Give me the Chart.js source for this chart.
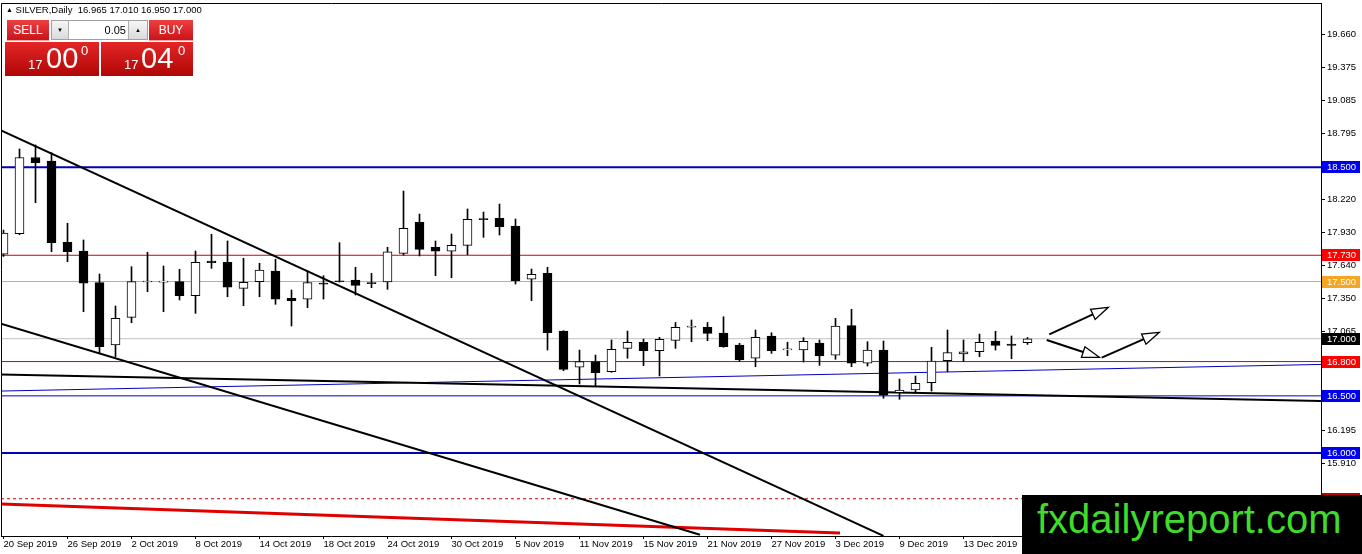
<!DOCTYPE html>
<html>
<head>
<meta charset="utf-8">
<script src="https://cdn.jsdelivr.net/npm/chart.js@4.4.1/dist/chart.umd.min.js"></script>
<style>
  html, body { margin: 0; padding: 0; background: #fff; }
  #wrap { position: relative; width: 1362px; height: 554px; overflow: hidden; font-family: "Liberation Sans", Arial, sans-serif; }
  #chart { position: absolute; left: 0; top: 0; }
  .abs { position: absolute; }
  #title { left: 6px; top: 4px; font-size: 9.5px; white-space: pre; color: #000; line-height: 11px; }
  #title .tri { font-size: 7px; vertical-align: 1px; }
  .btn { top: 20px; height: 20px; background: linear-gradient(#ee4040, #c8141a); color: #fff; font-size: 12px;
         text-align: center; line-height: 20px; border-bottom: 1px solid #f3a3a3; }
  #spin { left: 51px; top: 20px; width: 95px; height: 18px; border: 1px solid #a0a0a0; background: #fff; }
  .sbtn { top: 0; height: 18px; background: linear-gradient(#f6f6f6, #dadada); font-size: 6px; line-height: 18px; text-align: center; color: #000; }
  .price { top: 42px; height: 34px; background: linear-gradient(#e42626, #b00606); color: #fff; }
  .price span { position: absolute; white-space: pre; }
  #mark { left: 1022px; top: 495px; width: 340px; height: 59px; background: #000; }
  #mark span { position: absolute; left: 15px; top: 4px; font-size: 40px; line-height: 40px; color: #3fdc2c; white-space: pre; }
</style>
</head>
<body>
<div id="wrap">
  <canvas id="chart" width="1362" height="554"></canvas>

  <div id="title" class="abs"><span class="tri">&#9650;</span> SILVER,Daily  16.965 17.010 16.950 17.000</div>

  <div class="abs btn" style="left:7px;width:42px;">SELL</div>
  <div id="spin" class="abs">
    <div class="abs sbtn" style="left:0;width:16px;border-right:1px solid #b0b0b0;">&#9660;</div>
    <div class="abs" style="right:21px;top:0;font-size:11px;line-height:18px;">0.05</div>
    <div class="abs sbtn" style="right:0;width:18px;border-left:1px solid #b0b0b0;">&#9650;</div>
  </div>
  <div class="abs btn" style="left:149px;width:44px;">BUY</div>

  <div class="abs price" style="left:5px;width:94px;">
    <span style="left:23px;top:16px;font-size:13px;line-height:13px;">17</span>
    <span style="left:41px;top:2px;font-size:29px;line-height:29px;">00</span>
    <span style="left:76px;top:2px;font-size:13px;line-height:13px;">0</span>
  </div>
  <div class="abs price" style="left:101px;width:92px;">
    <span style="left:23px;top:16px;font-size:13px;line-height:13px;">17</span>
    <span style="left:40px;top:2px;font-size:29px;line-height:29px;">04</span>
    <span style="left:77px;top:2px;font-size:13px;line-height:13px;">0</span>
  </div>

  <div id="mark" class="abs"><span>fxdailyreport.com</span></div>
</div>

<script>
// daily bars, 20 Sep 2019 .. 19 Dec 2019
const dates = [
  "20 Sep 2019", "23 Sep 2019", "24 Sep 2019", "25 Sep 2019", "26 Sep 2019", "27 Sep 2019",
  "30 Sep 2019", "1 Oct 2019", "2 Oct 2019", "3 Oct 2019", "4 Oct 2019",
  "7 Oct 2019", "8 Oct 2019", "9 Oct 2019", "10 Oct 2019", "11 Oct 2019",
  "14 Oct 2019", "15 Oct 2019", "16 Oct 2019", "17 Oct 2019", "18 Oct 2019",
  "21 Oct 2019", "22 Oct 2019", "23 Oct 2019", "24 Oct 2019", "25 Oct 2019",
  "28 Oct 2019", "29 Oct 2019", "30 Oct 2019", "31 Oct 2019", "1 Nov 2019",
  "4 Nov 2019", "5 Nov 2019", "6 Nov 2019", "7 Nov 2019", "8 Nov 2019",
  "11 Nov 2019", "12 Nov 2019", "13 Nov 2019", "14 Nov 2019", "15 Nov 2019",
  "18 Nov 2019", "19 Nov 2019", "20 Nov 2019", "21 Nov 2019", "22 Nov 2019",
  "25 Nov 2019", "26 Nov 2019", "27 Nov 2019", "28 Nov 2019", "29 Nov 2019",
  "2 Dec 2019", "3 Dec 2019", "4 Dec 2019", "5 Dec 2019", "6 Dec 2019",
  "9 Dec 2019", "10 Dec 2019", "11 Dec 2019", "12 Dec 2019", "13 Dec 2019",
  "16 Dec 2019", "17 Dec 2019", "18 Dec 2019", "19 Dec 2019"
];

const opens = [
  17.740, 17.920, 18.585, 18.555, 17.843, 17.767, 17.490, 16.945, 17.187, 17.496,
  17.500, 17.499, 17.376, 17.680, 17.668, 17.441, 17.499, 17.592, 17.353, 17.345,
  17.485, 17.505, 17.514, 17.490, 17.496, 17.747, 18.018, 17.800, 17.765, 17.817,
  18.050, 18.053, 17.986, 17.520, 17.572, 17.067, 16.750, 16.801, 16.711, 16.916,
  16.969, 16.895, 16.986, 17.105, 17.100, 17.050, 16.945, 16.829, 17.024, 16.907,
  16.901, 16.962, 16.857, 17.114, 16.785, 16.901, 16.528, 16.551, 16.615, 16.808,
  16.866, 16.886, 16.980, 16.954, 16.965
];
const highs = [
  17.950, 18.660, 18.695, 18.627, 18.010, 17.864, 17.566, 17.286, 17.630, 17.756,
  17.636, 17.607, 17.767, 17.913, 17.855, 17.703, 17.660, 17.695, 17.426, 17.592,
  17.551, 17.840, 17.625, 17.572, 17.800, 18.292, 18.091, 17.855, 17.916, 18.135,
  18.108, 18.178, 18.047, 17.610, 17.625, 17.070, 16.901, 16.857, 16.989, 17.067,
  16.997, 17.012, 17.143, 17.164, 17.143, 17.192, 16.960, 17.076, 17.052, 16.969,
  17.009, 16.989, 17.178, 17.257, 16.974, 16.980, 16.647, 16.674, 16.925, 17.076,
  16.989, 17.041, 17.065, 17.024, 17.010
];
const lows = [
  17.720, 17.910, 18.190, 17.761, 17.674, 17.236, 16.877, 16.843, 17.140, 17.411,
  17.236, 17.339, 17.222, 17.616, 17.367, 17.289, 17.367, 17.301, 17.111, 17.271,
  17.347, 17.495, 17.382, 17.446, 17.432, 17.732, 17.724, 17.551, 17.534, 17.735,
  17.887, 17.907, 17.479, 17.333, 16.901, 16.720, 16.604, 16.586, 16.706, 16.829,
  16.764, 16.674, 16.916, 16.974, 16.983, 16.925, 16.799, 16.755, 16.872, 16.851,
  16.796, 16.767, 16.820, 16.755, 16.761, 16.479, 16.470, 16.522, 16.542, 16.711,
  16.799, 16.843, 16.901, 16.825, 16.950
];
const closes = [
  17.925, 18.585, 18.540, 17.840, 17.761, 17.485, 16.930, 17.178, 17.499, 17.505,
  17.500, 17.376, 17.668, 17.665, 17.450, 17.493, 17.601, 17.347, 17.332, 17.490,
  17.479, 17.500, 17.467, 17.484, 17.759, 17.966, 17.782, 17.765, 17.817, 18.045,
  18.043, 17.980, 17.507, 17.563, 17.052, 16.732, 16.799, 16.704, 16.907, 16.969,
  16.895, 16.995, 17.100, 17.105, 17.047, 16.930, 16.814, 17.012, 16.895, 16.907,
  16.977, 16.849, 17.111, 16.785, 16.901, 16.507, 16.551, 16.610, 16.805, 16.878,
  16.886, 16.969, 16.942, 16.942, 17.000
];

// price scale labels and date labels (every 4th bar)
const yTickValues = [19.660, 19.375, 19.085, 18.795, 18.505, 18.220, 17.930, 17.640,
                     17.350, 17.065, 16.775, 16.485, 16.195, 15.910, 15.620, 15.330];
const xTickIndex = [0, 4, 8, 12, 16, 20, 24, 28, 32, 36, 40, 44, 48, 52, 56, 60];

// horizontal levels
const levelValues = [18.500, 17.730, 17.500, 17.000, 16.800, 16.500, 16.000, 15.600];
const levelStyles = [
  { line: "#0000b4", width: 2, box: "#0000ee" },
  { line: "#d40000", width: 1, box: "#ff0000" },
  { line: "#f0a830", width: 1, box: "#f5a623" },
  { line: "#c0c0c0", width: 1, box: "#000000" },
  { line: "#d40000", width: 1, box: "#ff0000" },
  { line: "#0000c8", width: 1, box: "#0000ee" },
  { line: "#0000b4", width: 2, box: "#0000ee" },
  { line: "#cc0000", width: 1, box: "#c00000", dash: [3, 3] },
];

// trend lines: [bar from, price from, bar to, price to]
const trendLines = [
  [-0.156, 18.822, 55.00, 15.275],
  [-0.156, 17.132, 43.53, 15.285],
  [-0.156, 16.687, 82.344, 16.455],
  [-0.156, 16.542, 82.344, 16.775],
  [-0.156, 15.554, 52.28, 15.300],
];
const trendStyles = [
  { color: "#000000", width: 2 },
  { color: "#000000", width: 2 },
  { color: "#000000", width: 2 },
  { color: "#0000c0", width: 1 },
  { color: "#e00000", width: 3 },
];

// arrows: [bar from, price from, bar to (tip), price to]
const arrows = [
  [65.36, 17.038, 69.05, 17.275],
  [65.20, 16.989, 68.49, 16.837],
  [68.64, 16.834, 72.24, 17.056],
];

const X_MIN = -0.15625;
const X_MAX = 82.34375;

Chart.defaults.font.family = '"Liberation Sans", Arial, sans-serif';
Chart.defaults.font.size = 9.5;
Chart.defaults.color = "#000";

const wickData = opens.map((o, i) => ({ x: i, y: [lows[i], highs[i]] }));
const bodyData = opens.map((o, i) => {
  let lo = Math.min(o, closes[i]);
  let hi = Math.max(o, closes[i]);
  if (hi - lo < 0.009) { const m = (hi + lo) / 2; lo = m - 0.0045; hi = m + 0.0045; }
  return { x: i, y: [lo, hi] };
});
const bodyColors = opens.map((o, i) => (closes[i] >= o ? "#ffffff" : "#000000"));

// levels and trend lines sit behind the candles
const lineSets = [];
levelValues.forEach((v, i) => {
  const st = levelStyles[i];
  lineSets.push({
    type: "line",
    data: [{ x: X_MIN, y: v }, { x: X_MAX, y: v }],
    borderColor: st.line,
    borderWidth: st.width,
    borderDash: st.dash || [],
    pointRadius: 0,
    fill: false,
    order: 6,
  });
});
trendLines.forEach((t, i) => {
  const st = trendStyles[i];
  lineSets.push({
    type: "line",
    data: [{ x: t[0], y: t[1] }, { x: t[2], y: t[3] }],
    borderColor: st.color,
    borderWidth: st.width,
    pointRadius: 0,
    fill: false,
    order: 5,
  });
});

// chart frame (top and left edges)
const framePlugin = {
  id: "frame",
  afterDraw(chart) {
    const { ctx, chartArea: a } = chart;
    ctx.save();
    ctx.strokeStyle = "#000";
    ctx.lineWidth = 1;
    ctx.beginPath();
    ctx.moveTo(a.left + 0.5, a.bottom);
    ctx.lineTo(a.left + 0.5, a.top + 0.5);
    ctx.lineTo(a.right, a.top + 0.5);
    ctx.stroke();
    ctx.restore();
  },
};

const arrowPlugin = {
  id: "arrows",
  afterDatasetsDraw(chart) {
    const { ctx, scales } = chart;
    ctx.save();
    arrows.forEach((a) => {
      const x0 = scales.x.getPixelForValue(a[0]);
      const y0 = scales.y.getPixelForValue(a[1]);
      const x1 = scales.x.getPixelForValue(a[2]);
      const y1 = scales.y.getPixelForValue(a[3]);
      const ang = Math.atan2(y1 - y0, x1 - x0);
      const len = 17, half = 5.5;
      const bx = x1 - len * Math.cos(ang);
      const by = y1 - len * Math.sin(ang);
      ctx.strokeStyle = "#000";
      ctx.lineWidth = 2;
      ctx.beginPath();
      ctx.moveTo(x0, y0);
      ctx.lineTo(bx, by);
      ctx.stroke();
      ctx.lineWidth = 1.3;
      ctx.fillStyle = "#fff";
      ctx.beginPath();
      ctx.moveTo(x1, y1);
      ctx.lineTo(bx + half * Math.sin(ang), by - half * Math.cos(ang));
      ctx.lineTo(bx - half * Math.sin(ang), by + half * Math.cos(ang));
      ctx.closePath();
      ctx.fill();
      ctx.stroke();
    });
    ctx.restore();
  },
};

// coloured price tags on the price scale
const priceTagPlugin = {
  id: "priceTags",
  afterDraw(chart) {
    const { ctx, scales, chartArea } = chart;
    ctx.save();
    ctx.font = '9.5px "Liberation Sans", Arial, sans-serif';
    ctx.textBaseline = "middle";
    ctx.textAlign = "left";
    levelValues.forEach((v, i) => {
      const y = Math.round(scales.y.getPixelForValue(v));
      const x = chartArea.right + 1;
      ctx.fillStyle = levelStyles[i].box;
      ctx.fillRect(x, y - 6, 38, 12);
      ctx.fillStyle = "#fff";
      ctx.fillText(v.toFixed(3), x + 5, y + 0.5);
    });
    ctx.restore();
  },
};

new Chart(document.getElementById("chart"), {
  type: "bar",
  data: {
    datasets: [
      {
        data: wickData,
        backgroundColor: "#000",
        borderWidth: 0,
        barThickness: 1,
        grouped: false,
        order: 3,
      },
      {
        data: bodyData,
        backgroundColor: bodyColors,
        borderColor: "#000",
        borderWidth: 1,
        borderSkipped: false,
        barThickness: 9,
        grouped: false,
        order: 2,
      },
      ...lineSets,
    ],
  },
  options: {
    responsive: false,
    animation: false,
    events: [],
    layout: { padding: { left: 1, top: 3, right: 0, bottom: 0 } },
    plugins: { legend: { display: false }, tooltip: { enabled: false } },
    scales: {
      x: {
        type: "linear",
        min: X_MIN,
        max: X_MAX,
        offset: false,
        grid: { display: true, drawOnChartArea: false, offset: false, color: "#000", tickLength: 3 },
        border: { display: true, color: "#000", width: 1 },
        ticks: {
          autoSkip: false,
          maxRotation: 0,
          align: "start",
          padding: 0,
          callback: (v) => dates[v] ?? "",
        },
        afterBuildTicks: (s) => { s.ticks = xTickIndex.map((v) => ({ value: v })); },
        afterFit: (s) => { s.height = 18; s.paddingLeft = 0; s.paddingRight = 0; },
      },
      y: {
        type: "linear",
        position: "right",
        min: 15.274,
        max: 19.937,
        beginAtZero: false,
        grid: { display: true, drawOnChartArea: false, color: "#000", tickLength: 4 },
        border: { display: true, color: "#000", width: 1 },
        ticks: {
          autoSkip: false,
          padding: 2,
          callback: (v) => Number(v).toFixed(3),
        },
        afterBuildTicks: (s) => { s.ticks = yTickValues.map((v) => ({ value: v })); },
        afterFit: (s) => { s.width = 41; s.paddingTop = 0; s.paddingBottom = 0; },
      },
    },
  },
  plugins: [framePlugin, arrowPlugin, priceTagPlugin],
});
</script>
</body>
</html>
